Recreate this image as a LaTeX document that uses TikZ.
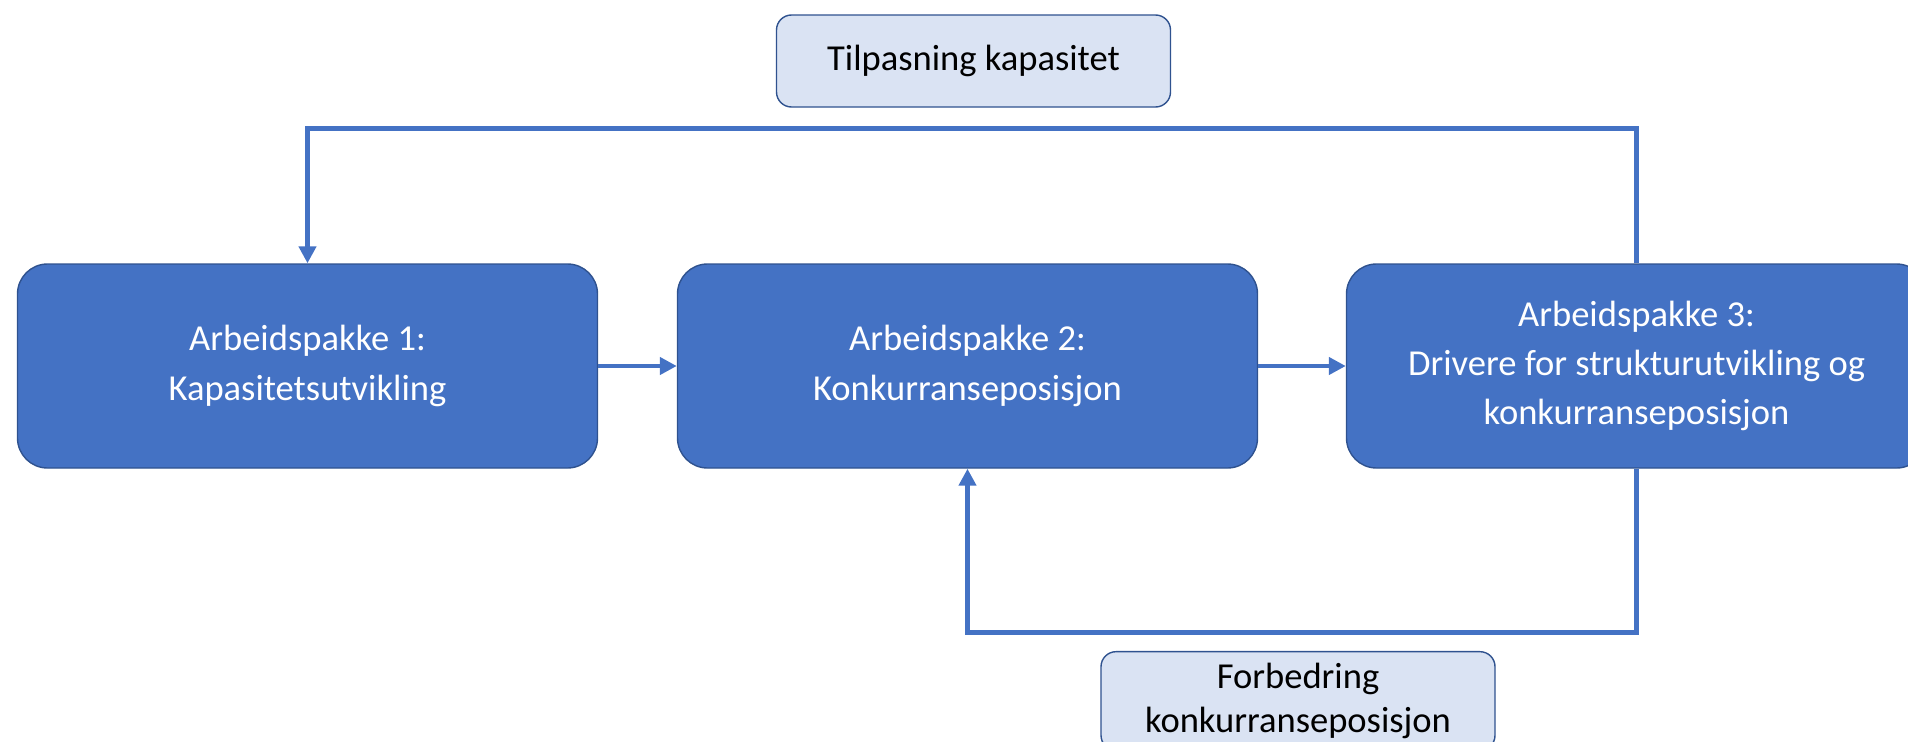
\documentclass[tikz,border=0pt]{standalone}
\usepackage{fontspec}
\setmainfont{Carlito}
\usepackage{xcolor}
\usepackage{tikz}
\usetikzlibrary{arrows.meta,positioning,calc}
\definecolor{apblue}{HTML}{4472C4}
\definecolor{apedge}{HTML}{2F528F}
\definecolor{aplight}{HTML}{DAE3F3}

\begin{document}
\begin{tikzpicture}[
            pakke/.style={draw=apedge, fill=apblue, text=white, rectangle, rounded corners=0.3cm,
                 minimum width=5.8cm, minimum height=2.04cm, align=center,
                 font=\fontsize{10.4}{14}\selectfont},
            merknad/.style={draw=apedge, fill=aplight, rectangle, rounded corners=0.15cm,
                 minimum width=3.94cm, minimum height=0.92cm, align=center,
                 font=\fontsize{10.4}{12.4}\selectfont},
            pil/.style={draw=apblue, line width=1.3pt, -{Triangle[length=0.17cm,width=0.17cm]}}
            ]
            \clip (0,0) rectangle (19.08,7.41);

            % Nodes with manual coordinates
            \node[pakke] (ap1) at (3.075,3.75) {Arbeidspakke 1:\\Kapasitetsutvikling};
            \node[pakke] (ap2) at (9.675,3.75) {Arbeidspakke 2:\\Konkurranseposisjon};
            \node[pakke] (ap3) at (16.365,3.75) {Arbeidspakke 3:\\Drivere for strukturutvikling og\\konkurranseposisjon};
            \node[merknad] (tilp) at (9.735,6.80) {Tilpasning kapasitet};
            \node[merknad] (forb) at (12.98,0.40) {Forbedring\\konkurranseposisjon};

            % Arrows
            \draw[pil] (ap1.east) -- (ap2.west);
            \draw[pil] (ap2.east) -- (ap3.west);
            \draw[pil] (ap3.north) -- ++(0,1.35) -| (ap1.north);
            \draw[pil] (ap3.south) -- ++(0,-1.64) -| (ap2.south);
        \end{tikzpicture}
\end{document}
